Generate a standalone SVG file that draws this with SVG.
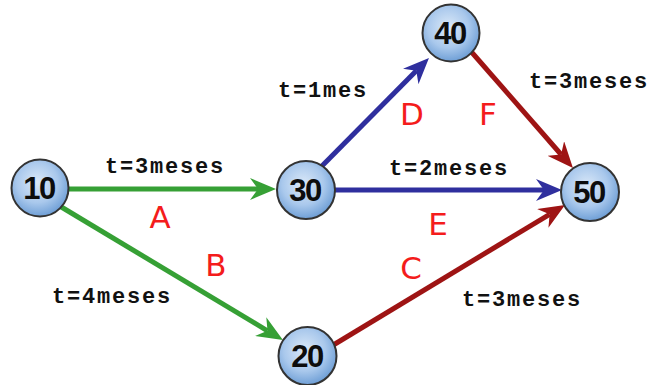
<svg xmlns="http://www.w3.org/2000/svg" width="651" height="385" viewBox="0 0 651 385">
<style>
.edge{fill:none;stroke-width:5;stroke-linecap:butt}
.g{stroke:#36a035}
.b{stroke:#2f2f9e}
.r{stroke:#9e1414}
.node circle{fill:url(#ng);stroke:#333;stroke-width:2}
.node text{font-family:"Liberation Sans",Arial,sans-serif;font-weight:bold;font-size:31px;fill:#0d0d0d;text-anchor:middle;letter-spacing:-1.5px}
.t{font-family:"Liberation Mono","Courier New",monospace;font-weight:bold;font-size:22px;fill:#111;text-anchor:middle;letter-spacing:1.8px}
.l{font-family:"DejaVu Sans",Verdana,sans-serif;font-size:31px;fill:#f41c1c;text-anchor:middle}
</style>
<defs>
<radialGradient id="ng" cx="0.45" cy="0.4" r="0.6">
<stop offset="0" stop-color="#dbe9f8"/>
<stop offset="0.6" stop-color="#a9c8ec"/>
<stop offset="1" stop-color="#6f9fd6"/>
</radialGradient>
<marker id="mg" markerUnits="userSpaceOnUse" markerWidth="26" markerHeight="22" refX="8" refY="11" orient="auto" viewBox="0 0 26 22"><path d="M0,0 L26,11 L0,22 L8,11 z" fill="#36a035"/></marker>
<marker id="mb" markerUnits="userSpaceOnUse" markerWidth="26" markerHeight="22" refX="8" refY="11" orient="auto" viewBox="0 0 26 22"><path d="M0,0 L26,11 L0,22 L8,11 z" fill="#2f2f9e"/></marker>
<marker id="mr" markerUnits="userSpaceOnUse" markerWidth="26" markerHeight="22" refX="8" refY="11" orient="auto" viewBox="0 0 26 22"><path d="M0,0 L26,11 L0,22 L8,11 z" fill="#9e1414"/></marker>
</defs>
<rect width="651" height="385" fill="#ffffff"/>
<g id="connectors">
<line id="edge-A" class="edge g" x1="60" y1="189" x2="258" y2="189" marker-end="url(#mg)"/>
<line id="edge-B" class="edge g" x1="58" y1="205" x2="267.5" y2="330.8" marker-end="url(#mg)"/>
<line id="edge-D" class="edge b" x1="318" y1="170" x2="416.3" y2="70.8" marker-end="url(#mb)"/>
<line id="edge-E" class="edge b" x1="330" y1="190" x2="544" y2="190" marker-end="url(#mb)"/>
<line id="edge-F" class="edge r" x1="468" y1="48" x2="561.1" y2="154.5" marker-end="url(#mr)"/>
<line id="edge-C" class="edge r" x1="330" y1="347" x2="549.6" y2="214.3" marker-end="url(#mr)"/>
</g>
<g id="labels">
<text class="t" x="165" y="173">t=3meses</text>
<text class="l" x="160" y="228">A</text>
<text class="t" x="323" y="97">t=1mes</text>
<text class="l" x="412" y="125">D</text>
<text class="l" x="488" y="125">F</text>
<text class="t" x="589" y="88">t=3meses</text>
<text class="t" x="449" y="175">t=2meses</text>
<text class="l" x="438" y="235">E</text>
<text class="l" x="216" y="276">B</text>
<text class="t" x="112" y="303">t=4meses</text>
<text class="l" x="411" y="279">C</text>
<text class="t" x="522" y="306">t=3meses</text>
</g>
<g id="node-10" class="node"><circle cx="40" cy="188" r="28.5"/><text x="39" y="199">10</text></g>
<g id="node-30" class="node"><circle cx="306" cy="190" r="29"/><text x="305" y="201">30</text></g>
<g id="node-40" class="node"><circle cx="451" cy="33" r="28.5"/><text x="450" y="44">40</text></g>
<g id="node-50" class="node"><circle cx="590" cy="192" r="29"/><text x="589" y="203">50</text></g>
<g id="node-20" class="node"><circle cx="307.5" cy="356" r="29"/><text x="307" y="367">20</text></g>
</svg>
